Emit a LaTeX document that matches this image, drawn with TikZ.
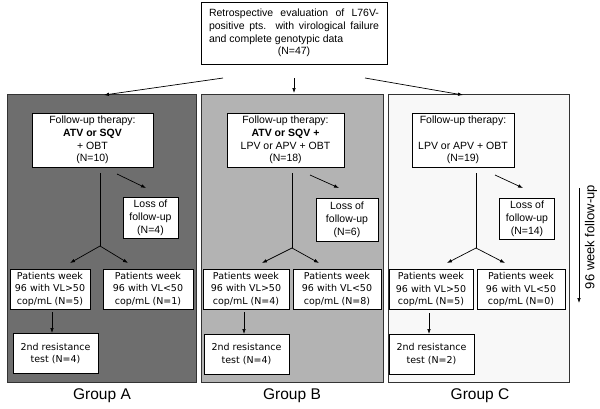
\documentclass[tikz,border=0pt]{standalone}
\usepackage{fontspec}
\setmainfont{Liberation Sans}
\newfontfamily\verd{DejaVu Sans}
\usetikzlibrary{arrows.meta}
\definecolor{grpA}{HTML}{6E6E6E}
\definecolor{grpB}{HTML}{B3B3B3}
\definecolor{grpC}{HTML}{F8F8F8}
\definecolor{edge}{HTML}{333333}
\tikzset{
  panel/.style={draw=edge, line width=0.8pt},
  box/.style={draw=black, fill=white, line width=0.7pt, inner sep=0pt, align=center,
    font=\fontsize{10.5}{12.8}\selectfont},
  vbox/.style={box, minimum height=40pt, font=\verd\fontsize{9.5}{12.5}\selectfont},
  fubox/.style={box, minimum height=54pt},
  lossbox/.style={box, minimum height=41pt},
  lin/.style={draw=black, line width=0.7pt},
  arr/.style={lin, -{Latex[length=5pt,width=3.6pt]}},
  grp/.style={font=\fontsize{15.5}{18}\selectfont},
}
\begin{document}
\begin{tikzpicture}[x=1pt,y=-1pt]
  \useasboundingbox (0,0) rectangle (600,408);

  % group panels
  \draw[panel,fill=grpA] (7,94) rectangle (196,382);
  \draw[panel,fill=grpB] (201,94) rectangle (383,382);
  \draw[panel,fill=grpC] (388,94) rectangle (569,382);

  % starting cohort
  \node[box,minimum width=186pt,minimum height=62pt,text width=170pt,align=left] (top) at (294,33)
    {\spaceskip=0pt\xspaceskip=0pt\relax
     \makebox[170pt][s]{Retrospective evaluation of L76V-}\\
     \makebox[170pt][s]{positive pts. with virological failure}\\
     and complete genotypic data\\
     \makebox[170pt]{(N=47)}};
  \coordinate (tA) at (223,78);
  \coordinate (tB) at (294,78);
  \coordinate (tC) at (365,78);
  \coordinate (pA) at (104,95);
  \coordinate (pB) at (294,93);
  \coordinate (pC) at (463,95);
  \draw[arr] (tA) -- (pA);
  \draw[arr] (tB) -- (pB);
  \draw[arr] (tC) -- (pC);

  % group A
  \node[fubox,minimum width=121pt] (fuA) at (92.5,140) {Follow-up therapy:\\\textbf{ATV or SQV}\\+ OBT\\(N=10)};
  \node[lossbox,minimum width=55pt] (lossA) at (150.5,218) {Loss of\\follow-up\\(N=4)};
  \node[vbox,minimum width=80pt] (hiA) at (50,289) {Patients week\\96 with VL>50\\cop/mL (N=5)};
  \node[vbox,minimum width=90pt] (loA) at (148,289) {Patients week\\96 with VL<50\\cop/mL (N=1)};
  \node[vbox,minimum width=85pt] (resA) at (55.5,353.5) {2nd resistance\\test (N=4)};
  \coordinate (sA) at (100,173);
  \coordinate (jA) at (100,246);
  \draw[lin] (sA) -- (jA);
  \draw[arr] (jA) -- (70,263);
  \draw[arr] (jA) -- (128,263);
  \draw[arr] (117,174) -- (146,188);
  \draw[arr,shorten <=3pt] (52,309) -- (52,333);
  \node[grp] (gA) at (102,396) {Group A};

  % group B
  \node[fubox,minimum width=117pt] (fuB) at (285.5,140) {Follow-up therapy:\\\textbf{ATV or SQV +}\\LPV or APV + OBT\\(N=18)};
  \node[lossbox,minimum width=62pt,minimum height=43pt] (lossB) at (347,220) {Loss of\\follow-up\\(N=6)};
  \node[vbox,minimum width=86pt] (hiB) at (246,289) {Patients week\\96 with VL>50\\cop/mL (N=4)};
  \node[vbox,minimum width=88pt] (loB) at (337,289) {Patients week\\96 with VL<50\\cop/mL (N=8)};
  \node[vbox,minimum width=85pt] (resB) at (246.5,354) {2nd resistance\\test (N=4)};
  \coordinate (sB) at (292,173);
  \coordinate (jB) at (292,248);
  \draw[lin] (sB) -- (jB);
  \draw[arr] (jB) -- (262,263);
  \draw[arr] (jB) -- (319,263);
  \draw[arr] (310,175) -- (339,188);
  \draw[arr,shorten <=3pt] (244,309) -- (244,334);
  \node[grp] (gB) at (292,396) {Group B};

  % group C
  \node[fubox,minimum width=102pt] (fuC) at (463,140) {Follow-up therapy:\\\mbox{}\\LPV or APV + OBT\\(N=19)};
  \node[lossbox,minimum width=55pt] (lossC) at (527,218.5) {Loss of\\follow-up\\(N=14)};
  \node[vbox,minimum width=84pt] (hiC) at (431,289.5) {Patients week\\96 with VL>50\\cop/mL (N=5)};
  \node[vbox,minimum width=88pt] (loC) at (521,289.5) {Patients week\\96 with VL<50\\cop/mL (N=0)};
  \node[vbox,minimum width=85pt] (resC) at (431.5,354) {2nd resistance\\test (N=2)};
  \coordinate (sC) at (476,173);
  \coordinate (jC) at (476,248);
  \draw[lin] (sC) -- (jC);
  \draw[arr] (jC) -- (447,263);
  \draw[arr] (jC) -- (505,263);
  \draw[arr] (495,175) -- (523,188);
  \draw[arr,shorten <=3pt] (429,310) -- (429,334);
  \node[grp] (gC) at (480,396) {Group C};

  % time axis
  \coordinate (w0) at (579,188);
  \coordinate (w96) at (579,303);
  \draw[arr] (w0) -- (w96);
  \node[rotate=90,font=\fontsize{13}{15}\selectfont] (wk) at (591,237) {96 week follow-up};
\end{tikzpicture}
\end{document}
